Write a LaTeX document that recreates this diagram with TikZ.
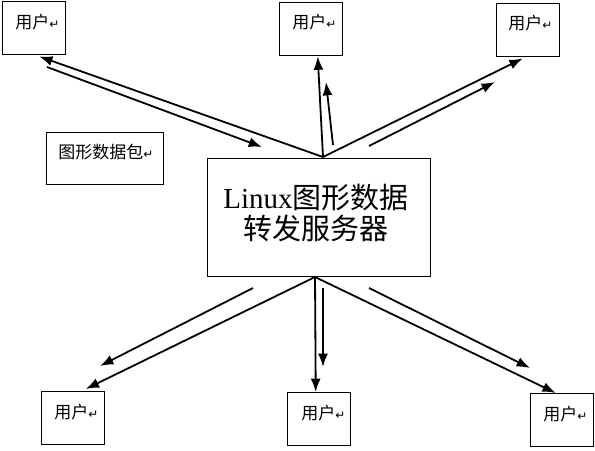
\documentclass[tikz,border=0pt]{standalone}
\usepackage{fontspec}
\setmainfont{Liberation Serif}
\newfontfamily\cjk{Noto Sans CJK SC}
\newfontfamily\symf{DejaVu Sans}
\usetikzlibrary{arrows.meta,calc}
\newcommand\retsym{{\symf\fontsize{9}{9}\selectfont ↵}}
\begin{document}
\begin{tikzpicture}[x=0.75pt,y=-0.75pt,
  box/.style={draw,line width=1.1pt,inner sep=0pt,anchor=north west},
  ubox/.style={box,minimum width=47.25pt,minimum height=39.75pt},
  lbl/.style={anchor=west,inner sep=0pt,font=\cjk\fontsize{12.75}{14}\selectfont},
  arr/.style={line width=1.35pt,-{Latex[length=10pt,width=7.5pt]}}]
\useasboundingbox (0,0) rectangle (595,450);
% boxes
\node[ubox] (u1) at (2,1) {};
\node[ubox] (u2) at (279,2) {};
\node[ubox] (u3) at (496,3) {};
\node[ubox] (u4) at (41,391) {};
\node[ubox] (u5) at (287,392) {};
\node[ubox] (u6) at (530,393) {};
\node[box,minimum width=87.75pt,minimum height=39pt] (pk) at (46,132) {};
\node[box,minimum width=167.25pt,minimum height=88.5pt] (srv) at (207,158) {};
% texts
\node[lbl] (u1t) at (15,22) {用户\retsym};
\node[lbl] (u2t) at (292,22) {用户\retsym};
\node[lbl] (u3t) at (508,23) {用户\retsym};
\node[lbl] (u4t) at (54,412) {用户\retsym};
\node[lbl] (u5t) at (301,413) {用户\retsym};
\node[lbl] (u6t) at (543,414) {用户\retsym};
\node[lbl] (pkt) at (58,152) {图形数据包\retsym};
\node[inner sep=0pt,align=center,font=\fontsize{21.75}{23}\selectfont] (srvt) at (316,213)
  {Linux{\cjk 图形数据}\\{\cjk 转发服务器}};
% hubs
\coordinate (hubT) at (323,157);
\coordinate (hubB) at (315,277);
% main connectors
\draw[arr] (hubT) -- ($(u1.south)+(5,1)$);
\draw[arr] (hubT) -- ($(u2.south)+(6.5,0)$);
\draw[arr] (hubT) -- ($(u3.south)+(-5.5,1)$);
\draw[arr] (hubB) -- ($(u4.north)+(12.5,-2)$);
\draw[arr] (hubB) -- ($(u5.north)+(-3.5,0)$);
\draw[arr] (hubB) -- ($(u6.north)+(-6.5,0)$);
% parallel packet arrows
\coordinate (a1s) at (47,67);   \coordinate (a1e) at (262,147);
\coordinate (a2s) at (333,145); \coordinate (a2e) at (326,82);
\coordinate (a3s) at (369,146); \coordinate (a3e) at (495,82);
\coordinate (a4s) at (253,288); \coordinate (a4e) at (100,366);
\coordinate (a5s) at (323,288); \coordinate (a5e) at (323,367);
\coordinate (a6s) at (369,288); \coordinate (a6e) at (530,368);
\draw[arr] (a1s) -- (a1e);
\draw[arr] (a2s) -- (a2e);
\draw[arr] (a3s) -- (a3e);
\draw[arr] (a4s) -- (a4e);
\draw[arr] (a5s) -- (a5e);
\draw[arr] (a6s) -- (a6e);
\end{tikzpicture}
\end{document}
